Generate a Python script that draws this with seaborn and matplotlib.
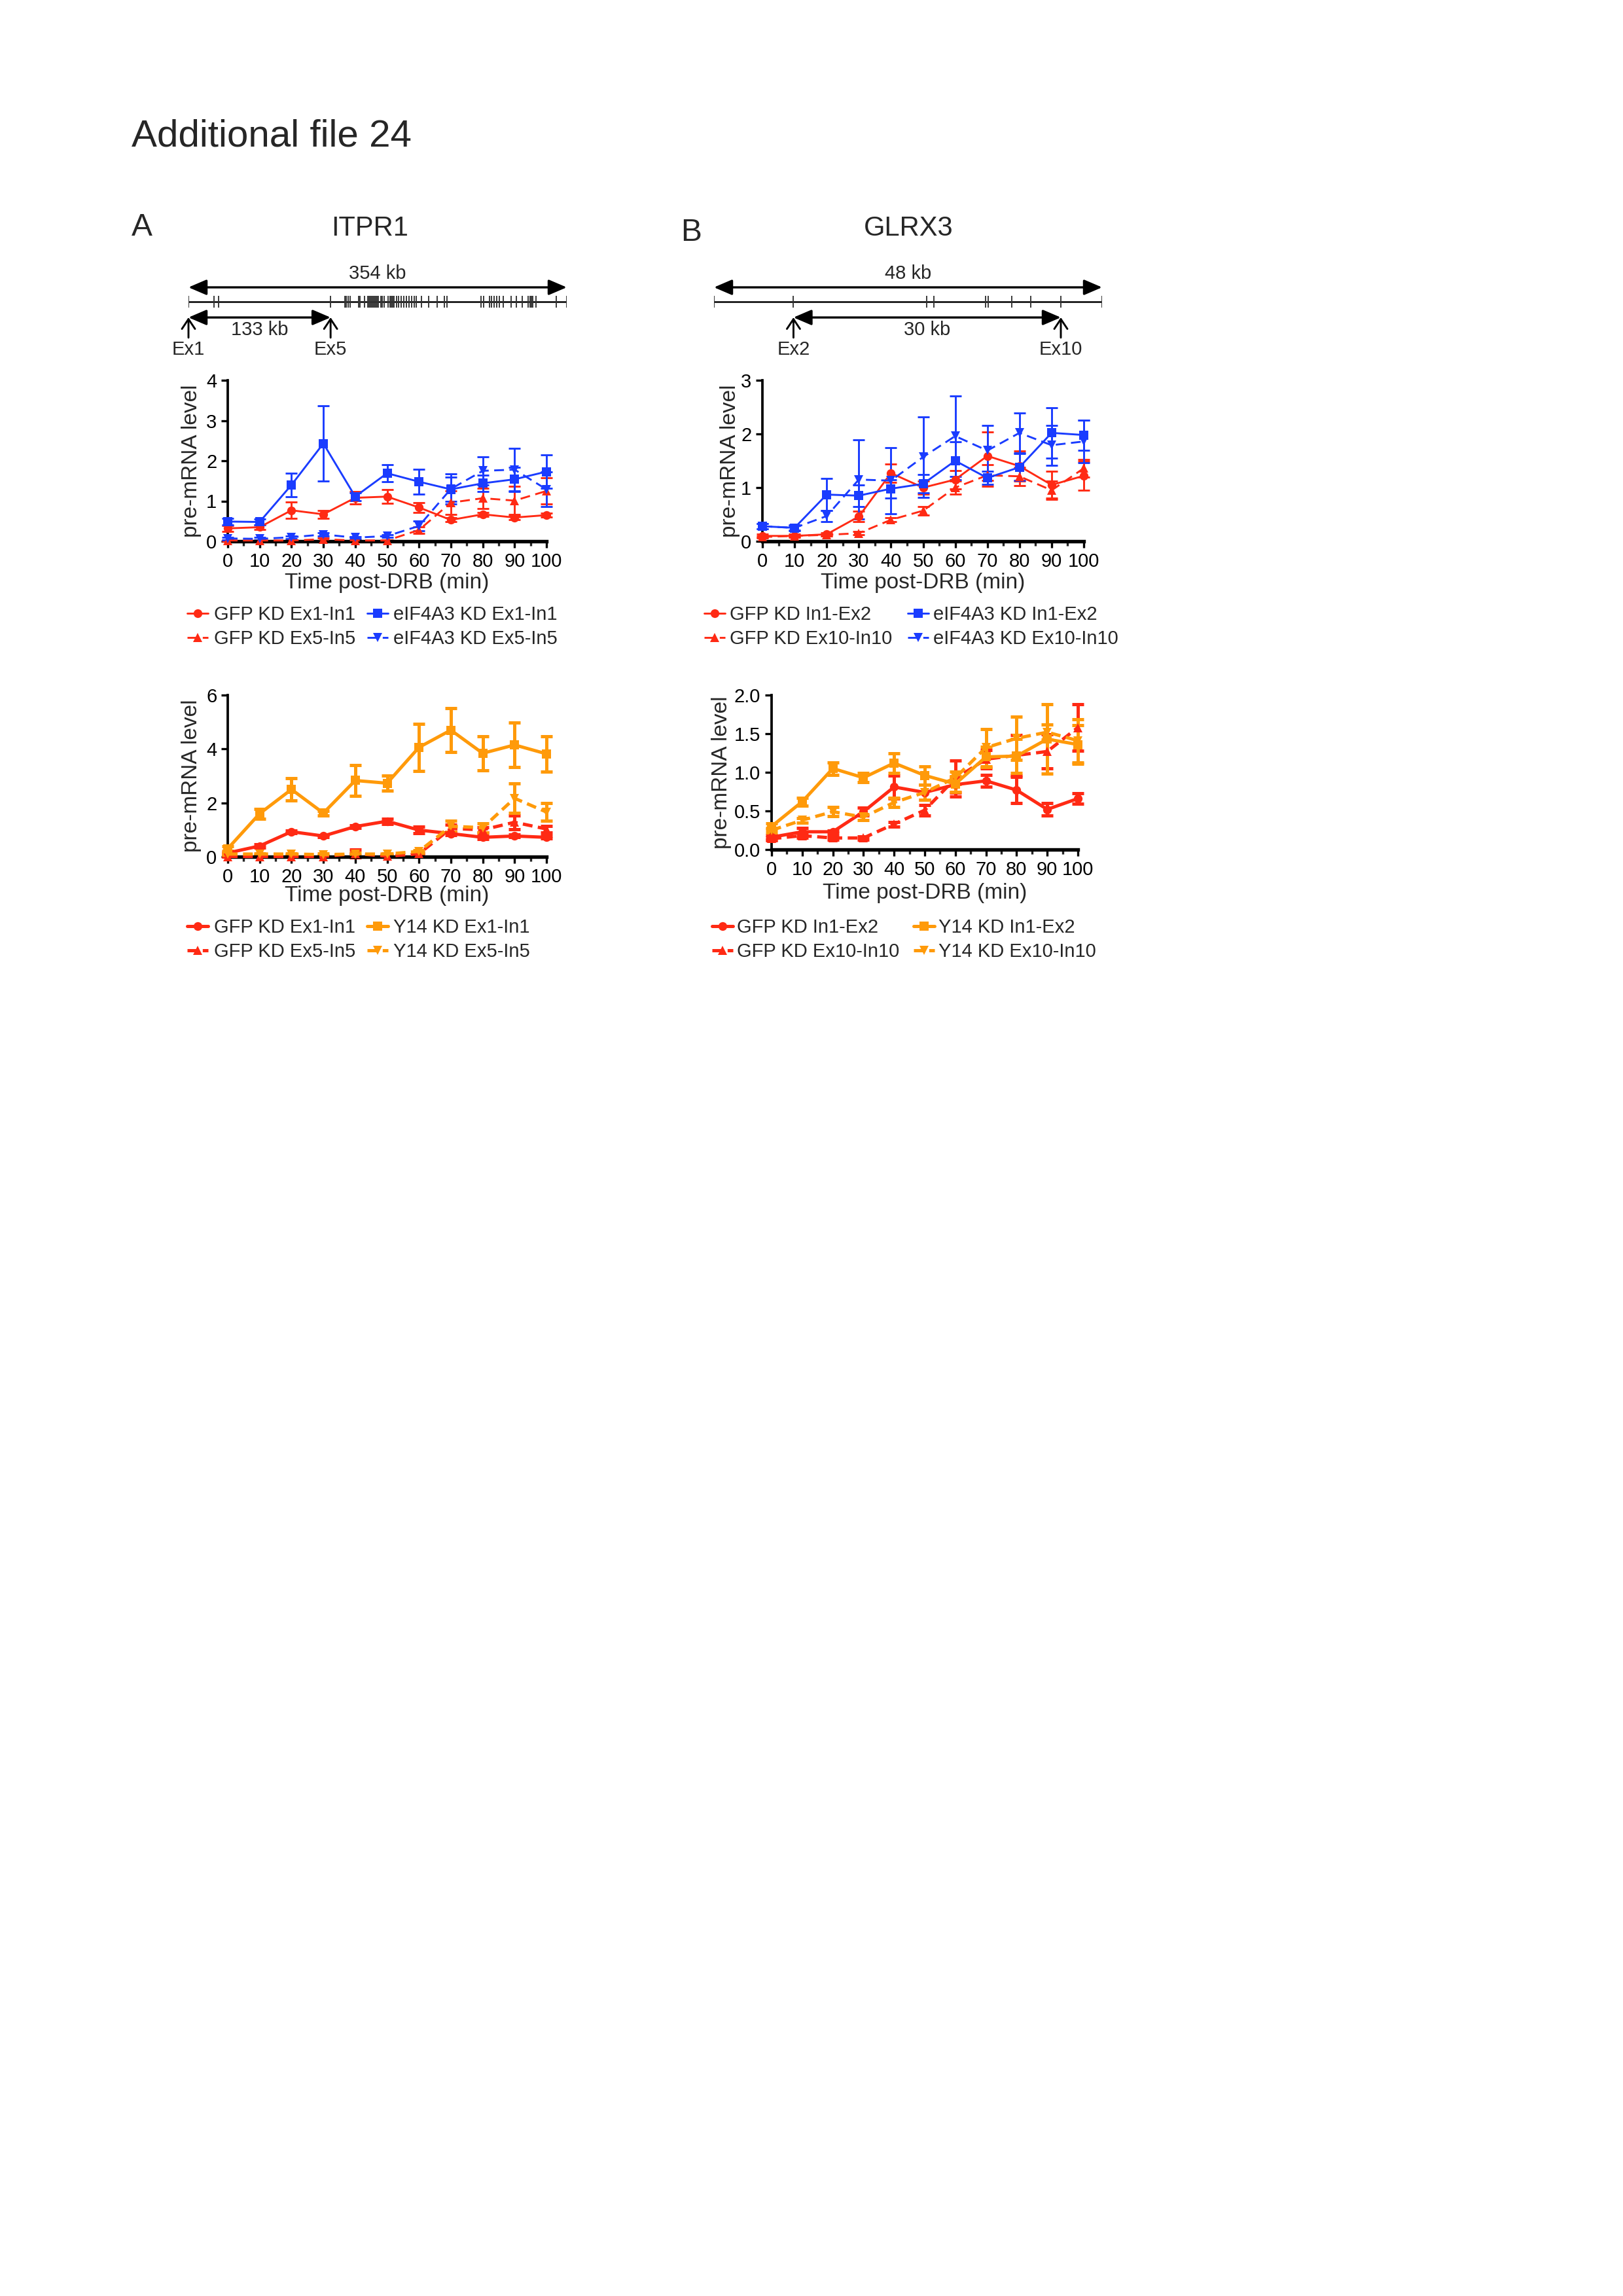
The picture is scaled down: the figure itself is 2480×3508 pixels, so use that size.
import matplotlib
matplotlib.use("Agg")
import matplotlib.pyplot as plt
from matplotlib.ticker import MultipleLocator, FormatStrFormatter
import pandas as pd
import seaborn as sns

W, H, DPI = 2480, 3508, 300

RED = "#ff2a14"
BLUE = "#1a3cff"
ORANGE = "#ff9a0a"

TIME = [0, 10, 20, 30, 40, 50, 60, 70, 80, 90, 100]

# --- A, top: ITPR1, GFP vs eIF4A3 knockdown
itpr1_gfp_ex1 = [0.32, 0.35, 0.77, 0.67, 1.08, 1.11, 0.84, 0.53, 0.67, 0.59, 0.65]
itpr1_gfp_ex1_err = [0.07, 0.05, 0.20, 0.10, 0.16, 0.17, 0.12, 0.05, 0.05, 0.05, 0.05]
itpr1_gfp_ex5 = [0.02, 0.02, 0.02, 0.05, 0.02, 0.02, 0.28, 0.96, 1.07, 1.01, 1.25]
itpr1_gfp_ex5_err = [0.02, 0.02, 0.02, 0.03, 0.02, 0.02, 0.08, 0.30, 0.25, 0.35, 0.32]
itpr1_eif_ex1 = [0.49, 0.48, 1.40, 2.43, 1.11, 1.69, 1.48, 1.29, 1.44, 1.54, 1.73]
itpr1_eif_ex1_err = [0.08, 0.07, 0.29, 0.93, 0.10, 0.21, 0.31, 0.30, 0.20, 0.30, 0.42]
itpr1_eif_ex5 = [0.07, 0.06, 0.10, 0.17, 0.09, 0.13, 0.38, 1.30, 1.75, 1.78, 1.29]
itpr1_eif_ex5_err = [0.03, 0.03, 0.03, 0.04, 0.03, 0.03, 0.12, 0.38, 0.35, 0.53, 0.43]

# --- B, top: GLRX3, GFP vs eIF4A3 knockdown
glrx3_gfp_in1 = [0.10, 0.10, 0.13, 0.46, 1.27, 1.00, 1.15, 1.59, 1.40, 1.05, 1.22]
glrx3_gfp_in1_err = [0.03, 0.03, 0.03, 0.10, 0.17, 0.12, 0.17, 0.45, 0.28, 0.25, 0.27]
glrx3_gfp_ex10 = [0.08, 0.10, 0.12, 0.15, 0.40, 0.57, 1.00, 1.23, 1.21, 0.95, 1.36]
glrx3_gfp_ex10_err = [0.02, 0.02, 0.02, 0.03, 0.04, 0.08, 0.12, 0.20, 0.17, 0.17, 0.17]
glrx3_eif_in1 = [0.28, 0.25, 0.87, 0.85, 0.98, 1.07, 1.50, 1.18, 1.38, 2.02, 1.98]
glrx3_eif_in1_err = [0.05, 0.05, 0.30, 0.20, 0.17, 0.17, 0.35, 0.12, 0.25, 0.47, 0.28]
glrx3_eif_ex10 = [0.28, 0.25, 0.47, 1.15, 1.13, 1.57, 1.96, 1.69, 2.02, 1.79, 1.86]
glrx3_eif_ex10_err = [0.05, 0.04, 0.10, 0.74, 0.62, 0.75, 0.75, 0.47, 0.37, 0.37, 0.40]

# --- A, bottom: ITPR1, GFP vs Y14 knockdown
itpr1_gfp2_ex1 = [0.14, 0.40, 0.93, 0.77, 1.12, 1.32, 0.99, 0.86, 0.72, 0.77, 0.72]
itpr1_gfp2_ex1_err = [0.03, 0.06, 0.05, 0.04, 0.05, 0.10, 0.12, 0.07, 0.06, 0.05, 0.05]
itpr1_gfp2_ex5 = [0.01, 0.01, 0.01, 0.01, 0.12, 0.02, 0.11, 1.05, 1.00, 1.28, 1.03]
itpr1_gfp2_ex5_err = [0.01, 0.01, 0.01, 0.01, 0.15, 0.02, 0.04, 0.15, 0.10, 0.25, 0.12]
itpr1_y14_ex1 = [0.30, 1.60, 2.50, 1.62, 2.83, 2.73, 4.06, 4.70, 3.84, 4.15, 3.82]
itpr1_y14_ex1_err = [0.08, 0.18, 0.42, 0.08, 0.56, 0.28, 0.87, 0.82, 0.63, 0.82, 0.65]
itpr1_y14_ex5 = [0.10, 0.10, 0.10, 0.08, 0.10, 0.10, 0.20, 1.13, 1.08, 2.17, 1.66]
itpr1_y14_ex5_err = [0.03, 0.03, 0.03, 0.03, 0.05, 0.03, 0.05, 0.21, 0.17, 0.55, 0.32]

# --- B, bottom: GLRX3, GFP vs Y14 knockdown
glrx3_gfp2_in1 = [0.16, 0.23, 0.23, 0.49, 0.81, 0.74, 0.84, 0.89, 0.77, 0.52, 0.66]
glrx3_gfp2_in1_err = [0.03, 0.05, 0.02, 0.05, 0.15, 0.10, 0.10, 0.08, 0.17, 0.08, 0.07]
glrx3_gfp2_ex10 = [0.14, 0.18, 0.15, 0.15, 0.33, 0.51, 0.92, 1.17, 1.22, 1.27, 1.58]
glrx3_gfp2_ex10_err = [0.02, 0.03, 0.02, 0.02, 0.03, 0.07, 0.23, 0.12, 0.26, 0.22, 0.30]
glrx3_y14_in1 = [0.30, 0.62, 1.05, 0.93, 1.12, 0.96, 0.85, 1.20, 1.21, 1.43, 1.36]
glrx3_y14_in1_err = [0.04, 0.05, 0.08, 0.06, 0.13, 0.12, 0.10, 0.13, 0.22, 0.45, 0.25]
glrx3_y14_ex10 = [0.25, 0.38, 0.49, 0.42, 0.61, 0.74, 0.93, 1.32, 1.44, 1.52, 1.41]
glrx3_y14_ex10_err = [0.03, 0.03, 0.06, 0.04, 0.06, 0.10, 0.08, 0.24, 0.28, 0.10, 0.28]

# --- gene structure (exon positions in kb from the first exon)
ITPR1_KB = 354
ITPR1_EXONS = [0, 23.6, 27.9, 133, 146.5, 147.9, 149.6, 151.2, 159.0, 160.7, 164.9,
               167.8, 169.0, 170.1, 171.3, 172.5, 173.7, 174.9, 176.3, 177.9, 179.8,
               181.5, 183.4, 186.7, 188.6, 190.0, 190.9, 192.1, 194.5, 196.8, 199.2,
               201.6, 203.9, 206.3, 208.7, 211.0, 213.4, 218.1, 224.5, 233.0, 239.4,
               241.7, 273.6, 276.0, 281.9, 283.6, 285.9, 288.3, 290.7, 294.4, 302.0,
               306.7, 312.6, 318.1, 319.7, 320.9, 322.1, 325.2, 344.1, 354]
GLRX3_KB = 48
GLRX3_EXONS = [0, 9.83, 26.3, 27.2, 33.6, 33.9, 36.8, 39.2, 42.9, 48]


def fx(px):
    return px / W


def fy(py):
    return 1 - py / H


def add_axes_px(fig, left, top, right, bottom):
    return fig.add_axes([fx(left), fy(bottom), (right - left) / W, (bottom - top) / H])


def draw_series(ax, label, y, err, color, marker, dashed, lw, ms):
    df = pd.DataFrame({"time": TIME, "level": y})
    ls = (0, (3.6 / lw, 2.0 / lw)) if dashed else "-"
    sns.lineplot(data=df, x="time", y="level", ax=ax, color=color, marker=marker,
                 markersize=ms, markeredgewidth=0, linewidth=lw, linestyle=ls,
                 label=label, errorbar=None, clip_on=False, zorder=3)
    ax.errorbar(TIME, y, yerr=err, fmt="none", ecolor=color, elinewidth=lw,
                capsize=2.2, capthick=lw, clip_on=False, zorder=2)


def style_axes(ax, ymax, ystep, yfmt, ylab_x, xlab_y):
    ax.set_xlim(0, 100)
    ax.set_ylim(0, ymax)
    ax.xaxis.set_major_locator(MultipleLocator(10))
    ax.xaxis.set_minor_locator(MultipleLocator(5))
    ax.yaxis.set_major_locator(MultipleLocator(ystep))
    ax.yaxis.set_major_formatter(FormatStrFormatter(yfmt))
    ax.tick_params(axis="both", which="major", labelsize=7, length=2.5, width=0.8,
                   pad=1.5, direction="out", colors="black")
    ax.tick_params(axis="x", which="minor", length=1.6, width=0.8, direction="out")
    sns.despine(ax=ax)
    ax.spines["left"].set_linewidth(0.9)
    ax.spines["bottom"].set_linewidth(1.3)
    ax.spines["left"].set_color("black")
    ax.spines["bottom"].set_color("black")
    ax.set_xlabel("Time post-DRB (min)", fontsize=8)
    ax.set_ylabel("pre-mRNA level", fontsize=8)
    ax.xaxis.set_label_coords(0.5, xlab_y)
    ax.yaxis.set_label_coords(ylab_x, 0.5)
    ax.grid(False)


def add_legend(ax, fig, x_px, y_px, colsp, textpad):
    handles, labels = ax.get_legend_handles_labels()
    ax.legend(handles, labels, loc="upper left", ncol=2, frameon=False,
              bbox_to_anchor=(fx(x_px), fy(y_px)), bbox_transform=fig.transFigure,
              fontsize=7, handlelength=1.1, handletextpad=textpad,
              columnspacing=colsp, labelspacing=0.3, borderpad=0, borderaxespad=0)


def draw_gene(fig, left, right, total_kb, exons, ex_a, ex_b, total_lab, span_lab, lab_a, lab_b):
    ax = add_axes_px(fig, left, 395, right, 550)
    ax.set_xlim(0, total_kb)
    ax.set_ylim(0, 1)
    ax.axis("off")
    big = dict(arrowstyle="<|-|>,head_length=0.7,head_width=0.3", color="black",
               lw=0.8, shrinkA=0, shrinkB=0, mutation_scale=8)
    ax.annotate("", xy=(0, 0.716), xytext=(total_kb, 0.716), arrowprops=big)
    ax.annotate("", xy=(ex_a, 0.419), xytext=(ex_b, 0.419), arrowprops=big)
    small = dict(arrowstyle="->,head_length=0.45,head_width=0.3", color="black",
                 lw=0.7, shrinkA=0, shrinkB=0, mutation_scale=8)
    for ex in (ex_a, ex_b):
        ax.annotate("", xy=(ex, 0.42), xytext=(ex, 0.22), arrowprops=small)
    ax.hlines(0.574, 0, total_kb, color="black", lw=0.6)
    ax.vlines(exons, 0.574 - 0.06, 0.574 + 0.06, color="0.2", lw=0.45)
    ax.text(total_kb / 2, 0.85, total_lab, ha="center", va="center", fontsize=7)
    ax.text((ex_a + ex_b) / 2, 0.30, span_lab, ha="center", va="center", fontsize=7)
    ax.text(ex_a, 0.10, lab_a, ha="center", va="center", fontsize=7)
    ax.text(ex_b, 0.10, lab_b, ha="center", va="center", fontsize=7)


sns.set_theme(style="ticks")
plt.rcParams["font.family"] = ["Liberation Sans", "DejaVu Sans"]

fig = plt.figure(figsize=(W / DPI, H / DPI), dpi=DPI)
fig.patch.set_facecolor("white")

fig.text(fx(201), fy(208), "Additional file 24", fontsize=14, ha="left", va="center")
fig.text(fx(201), fy(347), "A", fontsize=11.5, ha="left", va="center")
fig.text(fx(565), fy(349), "ITPR1", fontsize=10, ha="center", va="center")
fig.text(fx(1040), fy(356), "B", fontsize=11.5, ha="left", va="center")
fig.text(fx(1388), fy(349), "GLRX3", fontsize=10, ha="center", va="center")

draw_gene(fig, 288, 866, ITPR1_KB, ITPR1_EXONS, 0, 133, "354 kb", "133 kb", "Ex1", "Ex5")
draw_gene(fig, 1091, 1684, GLRX3_KB, GLRX3_EXONS, 9.83, 42.9, "48 kb", "30 kb", "Ex2", "Ex10")

# A top
ax = add_axes_px(fig, 348, 581, 835, 827)
draw_series(ax, "GFP KD Ex1-In1", itpr1_gfp_ex1, itpr1_gfp_ex1_err, RED, "o", False, 0.7, 3.2)
draw_series(ax, "GFP KD Ex5-In5", itpr1_gfp_ex5, itpr1_gfp_ex5_err, RED, "^", True, 0.7, 3.2)
draw_series(ax, "eIF4A3 KD Ex1-In1", itpr1_eif_ex1, itpr1_eif_ex1_err, BLUE, "s", False, 0.7, 3.2)
draw_series(ax, "eIF4A3 KD Ex5-In5", itpr1_eif_ex5, itpr1_eif_ex5_err, BLUE, "v", True, 0.7, 3.2)
style_axes(ax, 4, 1, "%d", -0.082, -0.195)
add_legend(ax, fig, 286, 925, 0.6, 0.3)

# B top
ax = add_axes_px(fig, 1165, 581, 1656, 827)
draw_series(ax, "GFP KD In1-Ex2", glrx3_gfp_in1, glrx3_gfp_in1_err, RED, "o", False, 0.7, 3.2)
draw_series(ax, "GFP KD Ex10-In10", glrx3_gfp_ex10, glrx3_gfp_ex10_err, RED, "^", True, 0.7, 3.2)
draw_series(ax, "eIF4A3 KD In1-Ex2", glrx3_eif_in1, glrx3_eif_in1_err, BLUE, "s", False, 0.7, 3.2)
draw_series(ax, "eIF4A3 KD Ex10-In10", glrx3_eif_ex10, glrx3_eif_ex10_err, BLUE, "v", True, 0.7, 3.2)
style_axes(ax, 3, 1, "%d", -0.069, -0.195)
add_legend(ax, fig, 1076, 925, 0.8, 0.25)

# A bottom
ax = add_axes_px(fig, 348, 1062, 835, 1309)
draw_series(ax, "GFP KD Ex1-In1", itpr1_gfp2_ex1, itpr1_gfp2_ex1_err, RED, "o", False, 1.2, 3.2)
draw_series(ax, "GFP KD Ex5-In5", itpr1_gfp2_ex5, itpr1_gfp2_ex5_err, RED, "^", True, 1.2, 3.2)
draw_series(ax, "Y14 KD Ex1-In1", itpr1_y14_ex1, itpr1_y14_ex1_err, ORANGE, "s", False, 1.2, 3.2)
draw_series(ax, "Y14 KD Ex5-In5", itpr1_y14_ex5, itpr1_y14_ex5_err, ORANGE, "v", True, 1.2, 3.2)
style_axes(ax, 6, 2, "%d", -0.082, -0.178)
add_legend(ax, fig, 286, 1403, 0.6, 0.3)

# B bottom
ax = add_axes_px(fig, 1179, 1062, 1647, 1298)
draw_series(ax, "GFP KD In1-Ex2", glrx3_gfp2_in1, glrx3_gfp2_in1_err, RED, "o", False, 1.2, 3.2)
draw_series(ax, "GFP KD Ex10-In10", glrx3_gfp2_ex10, glrx3_gfp2_ex10_err, RED, "^", True, 1.2, 3.2)
draw_series(ax, "Y14 KD In1-Ex2", glrx3_y14_in1, glrx3_y14_in1_err, ORANGE, "s", False, 1.2, 3.2)
draw_series(ax, "Y14 KD Ex10-In10", glrx3_y14_ex10, glrx3_y14_ex10_err, ORANGE, "v", True, 1.2, 3.2)
style_axes(ax, 2, 0.5, "%.1f", -0.13, -0.216)
add_legend(ax, fig, 1088, 1403, 0.75, 0.2)

fig.savefig("out.png", dpi=DPI)
plt.close(fig)
